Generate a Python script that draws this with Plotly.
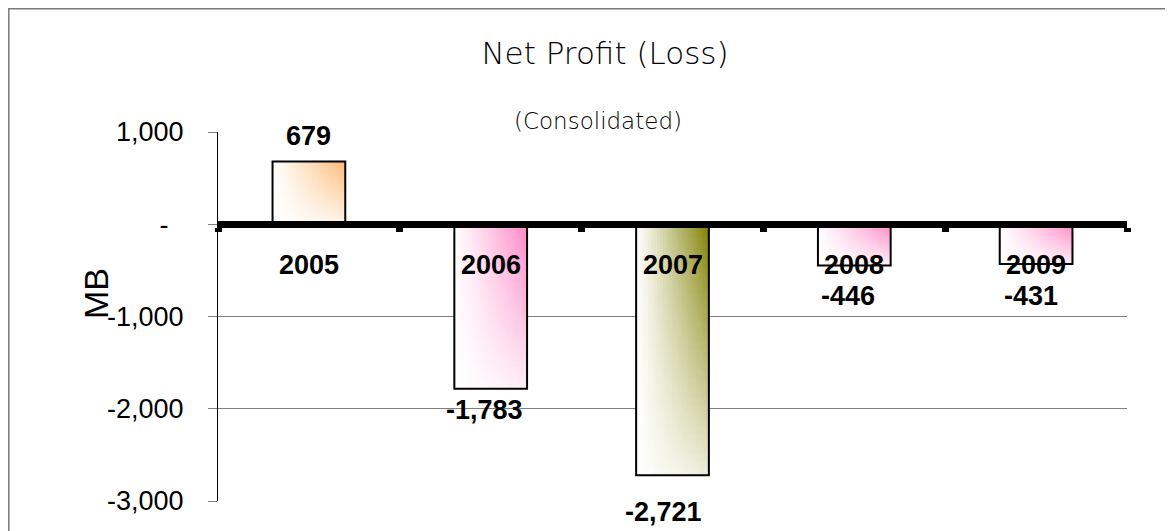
import plotly.graph_objects as go

# ---- data ----
years = ["2005", "2006", "2007", "2008", "2009"]
net_profit = [679, -1783, -2721, -446, -431]
value_text = ["679", "-1,783", "-2,721", "-446", "-431"]
y_tickvals = [-3000, -2000, -1000, 0, 1000]
y_ticktext = ["-3,000", "-2,000", "-1,000", "-\u00a0\u00a0", "1,000"]

# ---- styles ----
bar_colors = [(255, 185, 115), (255, 135, 198), (128, 128, 0), (255, 135, 198), (255, 135, 198)]
label_yshift = [26, -21, -37, -31, -32]
label_xshift = [0, -6, -9, -6, -5]
BAR_W = 0.4
NC, NR = 24, 36

# page offset of the plotly div (default body margin)
OFF = 8
W, H = 1173 - OFF, 531 - OFF
L, R, T, B = 218 - OFF, 46, 132 - OFF, 30
PW, PH = W - L - R, H - T - B

def px_to_paper_x(px):
    return (px - OFF - L) / PW

def px_to_paper_y(py):
    return (H - B - (py - OFF)) / PH

fig = go.Figure()

# gradient fill (cells of each bar, derived from the bar's value)
gx, gbase, gy, goff, gw, gcol = [], [], [], [], [], []
for k, (cat, v) in enumerate(zip(years, net_profit)):
    c = bar_colors[k]
    for i in range(NC):
        u = (i + 0.5) / NC
        left = -BAR_W / 2 + i * BAR_W / NC
        for j in range(NR):
            frac = (j + 0.5) / NR
            s = frac if v > 0 else 1 - frac
            t = u ** 1.1 * (0.15 + 0.85 * s)
            t = max(0.0, min(1.0, t))
            rgb = tuple(int(round(255 + (cc - 255) * t)) for cc in c)
            gx.append(cat)
            gbase.append(v * j / NR)
            gy.append(v * min(1.6 / NR, 1 - j / NR))
            goff.append(left)
            gw.append(min(BAR_W / NC * 1.6, BAR_W / 2 - left))
            gcol.append("rgb(%d,%d,%d)" % rgb)

fig.add_trace(go.Bar(x=gx, y=gy, base=gbase, offset=goff, width=gw,
                     marker=dict(color=gcol, line=dict(width=0)),
                     hoverinfo="skip", showlegend=False))

# bar outlines
fig.add_trace(go.Bar(x=years, y=net_profit, width=BAR_W,
                     marker=dict(color="rgba(0,0,0,0)", line=dict(color="black", width=2)),
                     showlegend=False))

bold = dict(family="Liberation Sans, Arial", size=27, color="black", weight="bold")
# value labels
for k, v in enumerate(net_profit):
    fig.add_annotation(x=k, y=v, xref="x", yref="y", text=value_text[k], showarrow=False,
                       xanchor="center", yanchor="middle",
                       yshift=label_yshift[k], xshift=label_xshift[k], font=bold)
# category labels (inside the plot, under the zero line)
for k, cat in enumerate(years):
    fig.add_annotation(x=k, y=0, xref="x", yref="y", text=cat, showarrow=False,
                       xanchor="center", yanchor="middle", yshift=-41, font=bold)

# subtitle
fig.add_annotation(x=px_to_paper_x(598), y=px_to_paper_y(121), xref="paper", yref="paper",
                   text="(Consolidated)", showarrow=False, xanchor="center", yanchor="middle",
                   font=dict(family="DejaVu Sans", size=23, color="black", weight=300))
# y-axis title
fig.add_annotation(x=px_to_paper_x(96), y=px_to_paper_y(294), xref="paper", yref="paper",
                   text="MB", showarrow=False, textangle=-90, xanchor="center", yanchor="middle",
                   font=dict(family="Liberation Sans, Arial", size=34, color="black"))

# outer frame
fig.add_shape(type="rect", xref="paper", yref="paper",
              x0=(0.8 - L) / PW, x1=px_to_paper_x(1167),
              y0=-0.3, y1=(H - B - 0.8) / PH,
              line=dict(color="#7a7a7a", width=1.5), fillcolor="rgba(0,0,0,0)", layer="below")

fig.update_layout(
    width=W, height=H,
    margin=dict(l=L, r=R, t=T, b=B, pad=0),
    paper_bgcolor="white", plot_bgcolor="white",
    barmode="overlay",
    title=dict(text="Net Profit (Loss)", x=(605 - OFF) / W, y=1 - (53 - OFF) / H,
               xanchor="center", yanchor="middle",
               font=dict(family="DejaVu Sans", size=31, color="black", weight=300)),
    xaxis=dict(type="category", range=[-0.5, 4.5], anchor="free", position=0.75,
               showline=True, linecolor="black", linewidth=7,
               tickmode="array", tickvals=[-0.5, 0.5, 1.5, 2.5, 3.5, 4.5], ticktext=[""] * 6,
               ticks="outside", ticklen=4, tickwidth=7, tickcolor="black",
               showgrid=False, zeroline=False, showticklabels=False),
    yaxis=dict(range=[-3000, 1000], tickmode="array", tickvals=y_tickvals, ticktext=y_ticktext,
               showline=True, linecolor="black", linewidth=1,
               ticks="outside", ticklen=9, tickcolor="#808080", tickwidth=1,
               showgrid=True, gridcolor="#808080", gridwidth=1, zeroline=False,
               ticklabelstandoff=19,
               tickfont=dict(family="Liberation Sans, Arial", size=27, color="black")),
)

fig.write_html("out.html")
